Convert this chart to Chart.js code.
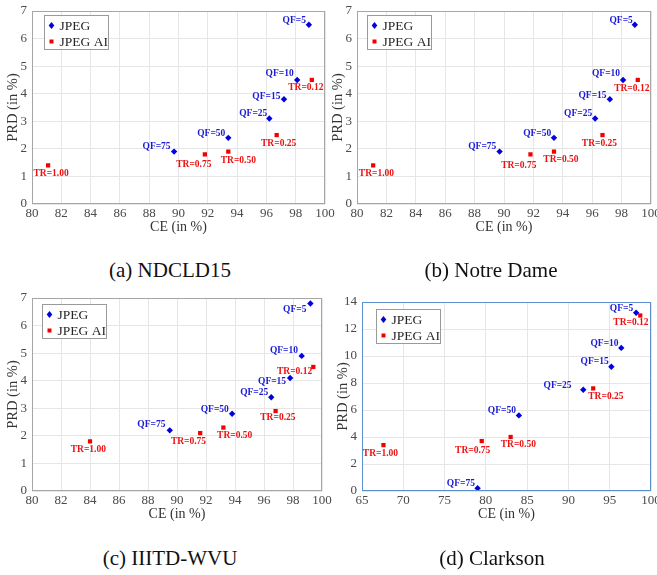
<!DOCTYPE html>
<html>
<head>
<meta charset="utf-8">
<script src="https://cdn.jsdelivr.net/npm/chart.js@4.4.1/dist/chart.umd.min.js"></script>
<style>
  body { margin: 0; width: 657px; height: 575px; background: #fff; position: relative; overflow: hidden; font-family: "Liberation Serif", serif; }
  canvas { position: absolute; }
  .cap { position: absolute; width: 300px; text-align: center; font-size: 21px; line-height: 24px; color: #111; }
</style>
</head>
<body>
<canvas id="chartA" width="345" height="239" style="left:0px;top:0px"></canvas>
<canvas id="chartB" width="345" height="239" style="left:325px;top:0px"></canvas>
<canvas id="chartC" width="345" height="241" style="left:0px;top:285px"></canvas>
<canvas id="chartD" width="345" height="241" style="left:330px;top:285px"></canvas>
<div class="cap" style="left:20px;top:258px">(a) NDCLD15</div>
<div class="cap" style="left:341px;top:258px">(b) Notre Dame</div>
<div class="cap" style="left:20px;top:546px">(c) IIITD-WVU</div>
<div class="cap" style="left:342px;top:546px">(d) Clarkson</div>
<script>
// point labels
var qfLabels = ['QF=5', 'QF=10', 'QF=15', 'QF=25', 'QF=50', 'QF=75'];
var trLabels = ['TR=0.12', 'TR=0.25', 'TR=0.50', 'TR=0.75', 'TR=1.00'];

// (a) NDCLD15
var ndcldJpegCE  = [98.9, 98.1, 97.2, 96.2, 93.4, 89.7];
var ndcldJpegPRD = [6.5, 4.5, 3.8, 3.1, 2.4, 1.9];
var ndcldAiCE    = [99.1, 96.7, 93.4, 91.8, 81.1];
var ndcldAiPRD   = [4.5, 2.5, 1.9, 1.8, 1.4];

// (b) Notre Dame
var notreJpegCE  = [98.9, 98.1, 97.2, 96.2, 93.4, 89.7];
var notreJpegPRD = [6.5, 4.5, 3.8, 3.1, 2.4, 1.9];
var notreAiCE    = [99.1, 96.7, 93.4, 91.8, 81.1];
var notreAiPRD   = [4.5, 2.5, 1.9, 1.8, 1.4];

// (c) IIITD-WVU
var iiitdJpegCE  = [99.2, 98.6, 97.8, 96.5, 93.8, 89.5];
var iiitdJpegPRD = [6.8, 4.9, 4.1, 3.4, 2.8, 2.2];
var iiitdAiCE    = [99.4, 96.8, 93.2, 91.6, 84.0];
var iiitdAiPRD   = [4.5, 2.9, 2.3, 2.1, 1.8];

// (d) Clarkson
var clarksonJpegCE  = [98.2, 96.4, 95.2, 91.8, 84.0, 79.0];
var clarksonJpegPRD = [13.2, 10.6, 9.2, 7.5, 5.6, 0.2];
var clarksonAiCE    = [98.7, 93.0, 83.0, 79.5, 67.6];
var clarksonAiPRD   = [13.0, 7.6, 4.0, 3.7, 3.4];

// tick values
var ceTicks       = [80, 82, 84, 86, 88, 90, 92, 94, 96, 98, 100];
var prdTicks      = [0, 1, 2, 3, 4, 5, 6, 7];
var ceTicksClark  = [65, 70, 75, 80, 85, 90, 95, 100];
var prdTicksClark = [0, 2, 4, 6, 8, 10, 12, 14];

// label nudges in px: [dx of right edge / centre, dy of centre]
var qfShiftA = [[-3, -4], [-3.5, -6], [-3.5, -2.5], [-2, -5], [-3, -4.5], [-3.5, -5]];
var trShiftA = [[-6, 8], [2, 8], [10, 9], [-11, 10], [3, 8]];
var qfShiftB = [[-2, -4], [-3, -6], [-3.3, -3.3], [-3, -5.3], [-2.7, -4.7], [-3.3, -5.3]];
var trShiftB = [[-6, 9], [-3, 8.3], [7, 8], [-11.7, 11], [3.3, 8.3]];
var qfShiftC = [[-4, 6], [-3.7, -5], [-4, 3.3], [-3, -5], [-3.3, -4.3], [-4.3, -5.3]];
var trShiftC = [[-18.7, 4.3], [2.3, 7], [11.3, 7.7], [-11.7, 8], [-1.7, 7.7]];
var qfShiftD = [[-3, -4], [-2.7, -4.3], [-2.7, -5.7], [-11.7, -4.3], [-3, -5], [-2.7, -5]];
var trShiftD = [[-9.3, 7.3], [12.7, 8.3], [7.7, 7.3], [-9, 9], [-3, 8.3]];

var SERIF = '"Liberation Serif", "Times New Roman", serif';
var BLUE = '#0000dc';
var RED = '#f00000';

function pts(xs, ys) {
    return xs.map(function(x, i) { return {x: x, y: ys[i]}; });
}

var decorPlugin = {
    id: 'decor',
    afterDatasetsDraw: function(chart) {
        var p = chart.options.plugins.decor;
        var ctx = chart.ctx;
        ctx.save();
        ctx.font = 'bold 9.5px ' + SERIF;
        ctx.textBaseline = 'middle';
        chart.getDatasetMeta(0).data.forEach(function(el, i) {
            ctx.fillStyle = '#1a1ad8';
            ctx.textAlign = 'right';
            ctx.fillText(qfLabels[i], el.x + p.qfShift[i][0], el.y + p.qfShift[i][1]);
        });
        chart.getDatasetMeta(1).data.forEach(function(el, i) {
            ctx.fillStyle = '#ee1010';
            ctx.textAlign = 'center';
            ctx.fillText(trLabels[i], el.x + p.trShift[i][0], el.y + p.trShift[i][1]);
        });
        ctx.restore();
    },
    afterDraw: function(chart) {
        var p = chart.options.plugins.decor;
        var a = chart.chartArea;
        var ctx = chart.ctx;
        ctx.save();
        // axes box
        ctx.strokeStyle = p.boxColor;
        ctx.lineWidth = 1;
        ctx.strokeRect(Math.round(a.left) + 0.5, Math.round(a.top) + 0.5,
                       Math.round(a.right - a.left) - 1, Math.round(a.bottom - a.top) - 1);
        // legend
        var lx = Math.round(a.left + p.legend[0]) + 0.5, ly = Math.round(a.top + p.legend[1]) + 0.5;
        ctx.fillStyle = '#fff';
        ctx.fillRect(lx, ly, 64, 34);
        ctx.strokeStyle = '#9a9a9a';
        ctx.strokeRect(lx, ly, 64, 34);
        ctx.font = '13.5px ' + SERIF;
        ctx.textBaseline = 'middle';
        ctx.textAlign = 'left';
        chart.data.datasets.forEach(function(ds, i) {
            var cx = lx + 7, cy = ly + 10 + i * 16;
            ctx.fillStyle = ds.backgroundColor;
            ctx.beginPath();
            if (ds.pointStyle === 'rectRot') {
                ctx.moveTo(cx, cy - 3.5); ctx.lineTo(cx + 2.8, cy); ctx.lineTo(cx, cy + 3.5); ctx.lineTo(cx - 2.8, cy);
            } else {
                ctx.rect(cx - 2, cy - 2, 4, 4);
            }
            ctx.closePath();
            ctx.fill();
            ctx.fillStyle = '#262626';
            ctx.fillText(ds.label, lx + 15, cy + 1);
        });
        ctx.restore();
    }
};

function makePanel(id, cfg) {
    var canvas = document.getElementById(id);
    var cl = parseFloat(canvas.style.left), ct = parseFloat(canvas.style.top);
    var yw = cfg.area[0] - cl;
    var xh = canvas.height - (cfg.area[3] - ct);
    new Chart(canvas.getContext('2d'), {
        type: 'scatter',
        data: {
            datasets: [{
                label: 'JPEG',
                data: pts(cfg.jx, cfg.jy),
                pointStyle: 'rectRot',
                pointRadius: 3.2,
                borderWidth: 0,
                backgroundColor: BLUE
            }, {
                label: 'JPEG AI',
                data: pts(cfg.ax, cfg.ay),
                pointStyle: 'rect',
                pointRadius: 3,
                borderWidth: 0,
                backgroundColor: RED
            }]
        },
        options: {
            responsive: false,
            animation: false,
            events: [],
            layout: { padding: { left: 0, top: cfg.area[1] - ct, right: cl + canvas.width - cfg.area[2], bottom: 0 } },
            plugins: {
                legend: { display: false },
                tooltip: { enabled: false },
                decor: { qfShift: cfg.qfShift, trShift: cfg.trShift, legend: cfg.legend, boxColor: cfg.boxColor }
            },
            scales: {
                x: {
                    type: 'linear',
                    min: cfg.xt[0], max: cfg.xt[cfg.xt.length - 1],
                    afterBuildTicks: function(s) { s.ticks = cfg.xt.map(function(v) { return {value: v}; }); },
                    afterFit: function(s) { s.height = xh; s.paddingLeft = 0; s.paddingRight = 0; },
                    grid: { color: '#e6e6e6', drawTicks: false },
                    border: { display: false },
                    ticks: { padding: 2, maxRotation: 0, autoSkip: false, color: '#4a4a4a', font: { family: SERIF, size: 13 } },
                    title: { display: true, text: 'CE (in %)', color: '#333', font: { family: SERIF, size: 14 }, padding: { top: 0, bottom: 3 } }
                },
                y: {
                    type: 'linear',
                    min: cfg.yt[0], max: cfg.yt[cfg.yt.length - 1],
                    afterBuildTicks: function(s) { s.ticks = cfg.yt.map(function(v) { return {value: v}; }); },
                    afterFit: function(s) { s.width = yw; s.paddingTop = 0; s.paddingBottom = 0; },
                    grid: { color: '#e6e6e6', drawTicks: false },
                    border: { display: false },
                    ticks: { padding: 5, autoSkip: false, color: '#4a4a4a', font: { family: SERIF, size: 13 } },
                    title: { display: true, text: 'PRD (in %)', color: '#333', font: { family: SERIF, size: 14.5 }, padding: { top: 4, bottom: 0 } }
                }
            }
        },
        plugins: [decorPlugin]
    });
}

makePanel('chartA', {
    jx: ndcldJpegCE, jy: ndcldJpegPRD, ax: ndcldAiCE, ay: ndcldAiPRD,
    xt: ceTicks, yt: prdTicks, qfShift: qfShiftA, trShift: trShiftA,
    area: [32, 11, 325, 204], legend: [12, 4], boxColor: '#a6a6a6'
});
makePanel('chartB', {
    jx: notreJpegCE, jy: notreJpegPRD, ax: notreAiCE, ay: notreAiPRD,
    xt: ceTicks, yt: prdTicks, qfShift: qfShiftB, trShift: trShiftB,
    area: [357, 11, 651, 204], legend: [10, 4], boxColor: '#a6a6a6'
});
makePanel('chartC', {
    jx: iiitdJpegCE, jy: iiitdJpegPRD, ax: iiitdAiCE, ay: iiitdAiPRD,
    xt: ceTicks, yt: prdTicks, qfShift: qfShiftC, trShift: trShiftC,
    area: [32, 298, 322, 491], legend: [10, 6], boxColor: '#a6a6a6'
});
makePanel('chartD', {
    jx: clarksonJpegCE, jy: clarksonJpegPRD, ax: clarksonAiCE, ay: clarksonAiPRD,
    xt: ceTicksClark, yt: prdTicksClark, qfShift: qfShiftD, trShift: trShiftD,
    area: [362, 302, 651, 491], legend: [14, 7], boxColor: '#5b8fd0'
});
</script>
</body>
</html>
